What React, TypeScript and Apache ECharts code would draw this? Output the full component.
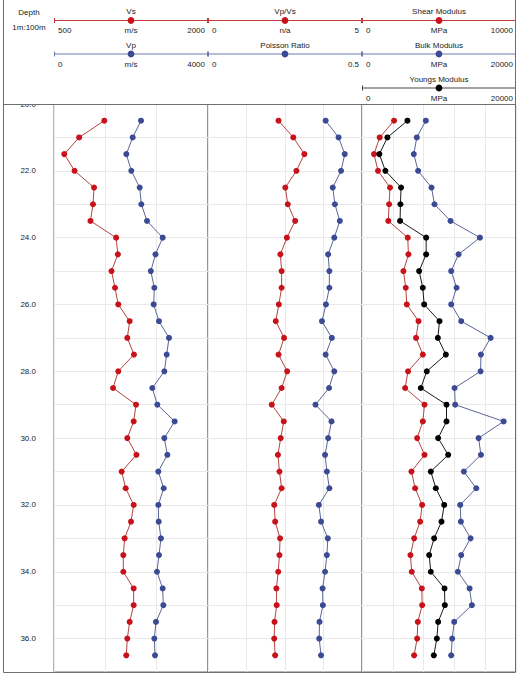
import React, { useEffect, useRef } from "react";
import * as echarts from "echarts";

const depths = [20.5, 21, 21.5, 22, 22.5, 23, 23.5, 24, 24.5, 25, 25.5, 26, 26.5, 27, 27.5, 28, 28.5, 29, 29.5, 30, 30.5, 31, 31.5, 32, 32.5, 33, 33.5, 34, 34.5, 35, 35.5, 36, 36.5];

const vs = [990, 745, 600, 700, 890, 880, 855, 1105, 1122, 1060, 1094, 1126, 1237, 1214, 1279, 1126, 1075, 1299, 1276, 1214, 1303, 1159, 1198, 1276, 1250, 1188, 1175, 1175, 1276, 1276, 1237, 1214, 1204];
const vp = [2260, 2044, 1878, 2008, 2225, 2268, 2416, 2823, 2636, 2515, 2606, 2589, 2727, 2987, 2927, 2866, 2554, 2684, 3134, 2866, 2944, 2710, 2849, 2710, 2719, 2779, 2727, 2675, 2823, 2840, 2649, 2606, 2623];
const vpvs = [2.29, 2.77, 3.13, 2.87, 2.51, 2.59, 2.83, 2.56, 2.35, 2.39, 2.39, 2.3, 2.2, 2.47, 2.29, 2.57, 2.39, 2.07, 2.46, 2.36, 2.27, 2.32, 2.39, 2.15, 2.18, 2.34, 2.32, 2.28, 2.22, 2.23, 2.16, 2.15, 2.18];
const poisson = [0.382, 0.424, 0.444, 0.432, 0.405, 0.412, 0.428, 0.41, 0.39, 0.394, 0.394, 0.383, 0.37, 0.402, 0.382, 0.41, 0.393, 0.349, 0.401, 0.39, 0.38, 0.386, 0.394, 0.36, 0.367, 0.389, 0.386, 0.38, 0.372, 0.373, 0.362, 0.361, 0.367];
const shear = [2080, 1150, 780, 1040, 1820, 1760, 1710, 2970, 3015, 2690, 2840, 2910, 3670, 3510, 3950, 2990, 2800, 4060, 3950, 3580, 4060, 3210, 3450, 3905, 3775, 3385, 3145, 3230, 3885, 3905, 3625, 3580, 3385];
const bulk = [8290, 7115, 6725, 7290, 9025, 9415, 11500, 15315, 12540, 11585, 12280, 11585, 12885, 16700, 15445, 15400, 12020, 12105, 18395, 15140, 15445, 13230, 14835, 12755, 12840, 14100, 12885, 12450, 13970, 14275, 11975, 11715, 11585];
const youngs = [5900, 3300, 2255, 3035, 5075, 4990, 4945, 8330, 8330, 7420, 7895, 8070, 10065, 9850, 10890, 8415, 7635, 10975, 10975, 9890, 11195, 8935, 9590, 10675, 10325, 9370, 8720, 8935, 10715, 10760, 9890, 9720, 9330];

const curveNames = ["Vs", "Vp", "Vp/Vs", "Poisson Ratio", "Shear Modulus", "Bulk Modulus", "Youngs Modulus"];
const curveUnits = ["m/s", "m/s", "n/a", "", "MPa", "MPa", "MPa"];
const curveMinLabels = ["500", "0", "0", "0", "0", "0", "0"];
const curveMaxLabels = ["2000", "4000", "5", "0.5", "10000", "20000", "20000"];
const curveMin = [500, 0, 0, 0, 0, 0, 0];
const curveMax = [2000, 4000, 5, 0.5, 10000, 20000, 20000];
const curveTrack = [0, 0, 1, 1, 2, 2, 2];
const curveRow = [0, 1, 0, 1, 0, 1, 2];
const curveValues = [vs, vp, vpvs, poisson, shear, bulk, youngs];
const trackGridInterval = [500, 1.25, 2000];
const depthMin = 20;
const depthMax = 37;
const depthTitle = ["Depth", "1m:100m"];

const RED = { marker: "#c8121b", line: "#b4443f", header: "#c4393a" };
const BLUE = { marker: "#3c4a94", line: "#5a6699", header: "#6f7aa8" };
const BLACK = { marker: "#000000", line: "#1a1a1a", header: "#444444" };
const curveColors = [RED, BLUE, RED, BLUE, RED, BLUE, BLACK];

const TRACK_L = 54;
const TRACK_W = 154;
const TOP = 104;
const BOTTOM_Y = 672;
const ROW_Y = [20.5, 54, 88];
const FONT = "Liberation Sans, Arial, sans-serif";
const FRAME = "#6e6e6e";
const GRIDC = "#e9e9e9";

export default function App() {
  const ref = useRef<HTMLDivElement>(null);
  useEffect(() => {
    if (!ref.current) return;
    const chart = echarts.init(ref.current, undefined, { renderer: "svg" });

    const grids = [0, 1, 2].map((t) => ({
      left: TRACK_L + TRACK_W * t,
      width: TRACK_W,
      top: TOP,
      height: BOTTOM_Y - TOP,
      show: true,
      borderColor: FRAME,
      borderWidth: 1,
      backgroundColor: "transparent",
    }));

    const yAxes = [0, 1, 2].map((t) => ({
      type: "value",
      gridIndex: t,
      inverse: true,
      min: depthMin,
      max: depthMax,
      interval: 1,
      axisLine: { show: false },
      axisTick: { show: false },
      splitLine: { show: true, lineStyle: { color: GRIDC, width: 1 } },
      axisLabel:
        t === 0
          ? {
              show: true,
              margin: 18,
              fontSize: 8,
              color: "#222",
              fontFamily: FONT,
              formatter: (v: number) => (Math.round(v) % 2 === 0 ? v.toFixed(1) : ""),
            }
          : { show: false },
    }));

    const firstOfTrack = [0, 2, 4];
    const xAxes = curveNames.map((_, i) => {
      const t = curveTrack[i];
      const isFirst = firstOfTrack.includes(i);
      return {
        type: "value",
        gridIndex: t,
        min: curveMin[i],
        max: curveMax[i],
        interval: isFirst ? trackGridInterval[t] : undefined,
        show: isFirst,
        axisLine: { show: false },
        axisTick: { show: false },
        axisLabel: { show: false },
        splitLine: { show: isFirst, lineStyle: { color: GRIDC, width: 1 } },
      };
    });

    const order = [1, 0, 3, 2, 5, 4, 6];
    const series = order.map((i) => ({
      type: "line",
      name: curveNames[i],
      xAxisIndex: i,
      yAxisIndex: curveTrack[i],
      data: depths.map((d, j) => [curveValues[i][j], d]),
      symbol: "circle",
      symbolSize: 6,
      showSymbol: true,
      lineStyle: { color: curveColors[i].line, width: 1 },
      itemStyle: { color: curveColors[i].marker },
      z: 3,
    }));

    const graphic: any[] = [];
    graphic.push({
      type: "rect",
      z: 50,
      shape: { x: 0, y: 0, width: 519, height: TOP },
      style: { fill: "#ffffff" },
    });
    // header texts & scales
    depthTitle.forEach((s, k) => {
      graphic.push({
        type: "text",
        z: 60,
        x: 29,
        y: k === 0 ? 12 : 27,
        style: { text: s, fontSize: 8, fontFamily: FONT, fill: "#222", align: "center", verticalAlign: "middle" },
      });
    });
    curveNames.forEach((name, i) => {
      const L = TRACK_L + TRACK_W * curveTrack[i];
      const R = L + TRACK_W;
      const C = L + TRACK_W / 2;
      const y = ROW_Y[curveRow[i]];
      const col = curveColors[i];
      const txt = (x: number, yy: number, s: string, align: string) => ({
        type: "text",
        z: 60,
        x,
        y: yy,
        style: { text: s, fontSize: 8, fontFamily: FONT, fill: "#222", align, verticalAlign: "middle" },
      });
      graphic.push(txt(C, y - 9, name, "center"));
      graphic.push({ type: "line", z: 60, shape: { x1: L, y1: y, x2: R, y2: y }, style: { stroke: col.header, lineWidth: 1 } });
      graphic.push({ type: "line", z: 60, shape: { x1: L + 0.5, y1: y - 2.5, x2: L + 0.5, y2: y + 2.5 }, style: { stroke: col.header, lineWidth: 1 } });
      graphic.push({ type: "line", z: 60, shape: { x1: R - 0.5, y1: y - 2.5, x2: R - 0.5, y2: y + 2.5 }, style: { stroke: col.header, lineWidth: 1 } });
      graphic.push({ type: "circle", z: 61, shape: { cx: C, cy: y, r: 3.4 }, style: { fill: col.marker } });
      graphic.push(txt(L + 4, y + 10, curveMinLabels[i], "left"));
      if (curveUnits[i]) graphic.push(txt(C, y + 10, curveUnits[i], "center"));
      graphic.push(txt(R - 3, y + 10, curveMaxLabels[i], "right"));
    });
    // frame lines
    const frameLine = (x1: number, y1: number, x2: number, y2: number) => ({
      type: "line",
      z: 70,
      shape: { x1, y1, x2, y2 },
      style: { stroke: FRAME, lineWidth: 1 },
    });
    graphic.push(frameLine(3.5, 0, 3.5, BOTTOM_Y + 0.5));
    graphic.push(frameLine(515.5, 0, 515.5, BOTTOM_Y + 0.5));
    graphic.push(frameLine(3.5, TOP + 0.5, 515.5, TOP + 0.5));
    graphic.push(frameLine(3.5, BOTTOM_Y + 0.5, 515.5, BOTTOM_Y + 0.5));

    chart.setOption({
      animation: false,
      backgroundColor: "#ffffff",
      grid: grids,
      xAxis: xAxes,
      yAxis: yAxes,
      series,
      graphic,
    } as any);

    return () => chart.dispose();
  }, []);

  return (
    <div
      ref={ref}
      style={{ position: "fixed", left: 0, top: 0, width: 519, height: 677 }}
    />
  );
}
